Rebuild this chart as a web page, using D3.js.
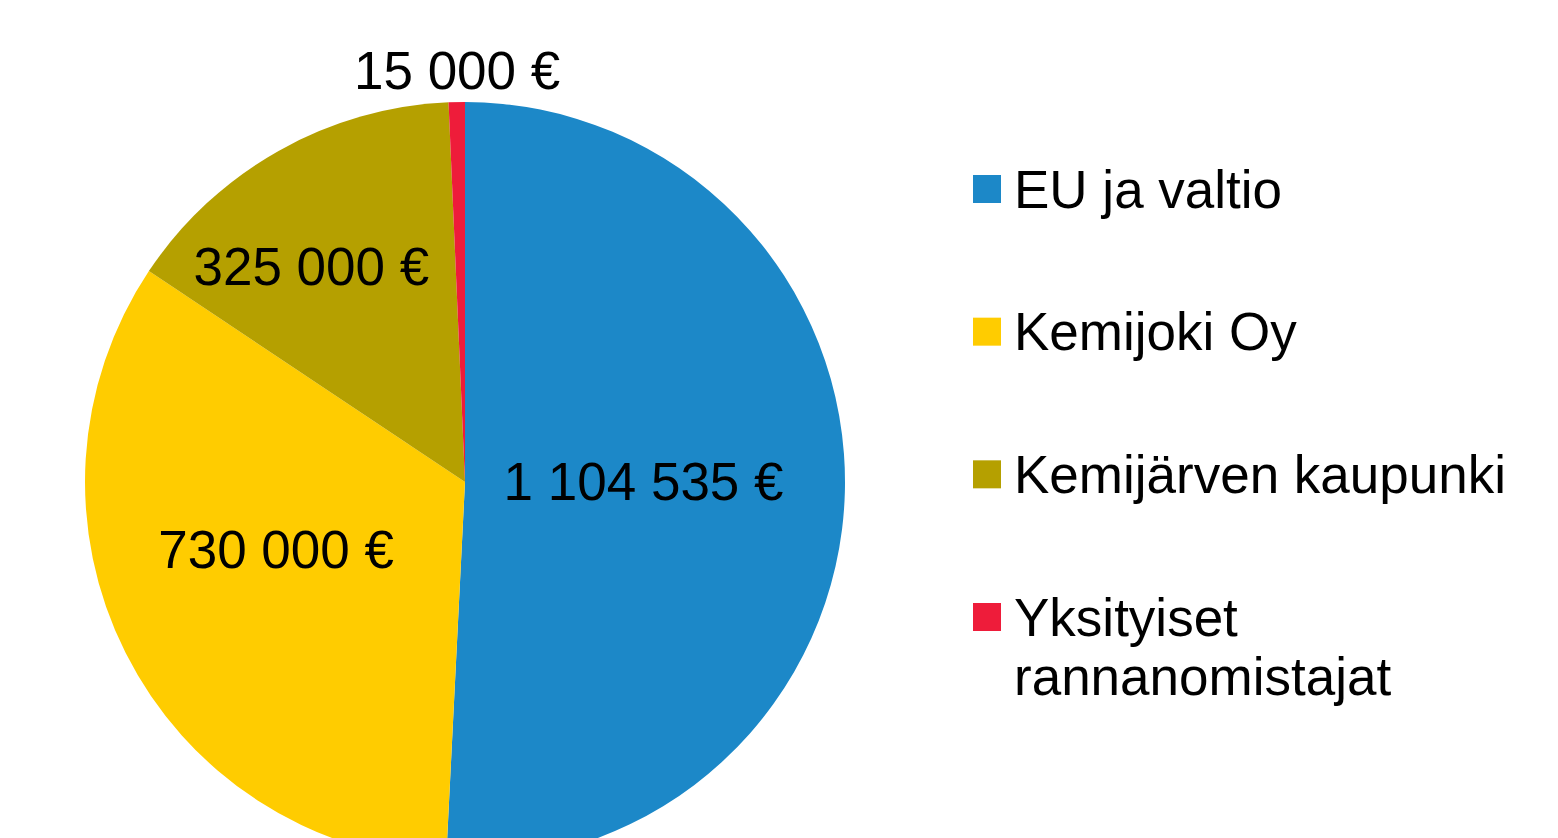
<!DOCTYPE html>
<html><head><meta charset="utf-8">
<script src="https://cdn.jsdelivr.net/npm/d3@7"></script>
<style>html,body{margin:0;padding:0;background:#fff;overflow:hidden}</style>
</head><body>
<svg id="c" width="1558" height="838"></svg>
<script>
const categories = ["EU ja valtio", "Kemijoki Oy", "Kemijärven kaupunki", "Yksityiset rannanomistajat"];
const values = [1104535, 730000, 325000, 15000];
const valueLabels = ["1 104 535 €", "730 000 €", "325 000 €", "15 000 €"];
const legendLines = [["EU ja valtio"], ["Kemijoki Oy"], ["Kemijärven kaupunki"], ["Yksityiset", "rannanomistajat"]];
const colors = ["#1C88C8", "#FFCC00", "#B5A000", "#EE1C3A"];

// layout
const cx = 465, cy = 482, R = 380;
const labelK = [0.47, 0.53, 0.69, 1.08];
const labelOff = [[0, -5], [-9, -23], [-25, 13], [1, -1]];
const font = "'Liberation Sans', Arial, sans-serif";
const fs = 53;

const svg = d3.select("#c");
const pie = d3.pie().sort(null).value(d => d)(values);
const arc = d3.arc().innerRadius(0).outerRadius(R);
const g = svg.append("g").attr("transform", `translate(${cx},${cy})`);
g.selectAll("path").data(pie).join("path")
  .attr("d", arc).attr("fill", (d, i) => colors[i]);

g.selectAll("text").data(pie).join("text")
  .attr("transform", (d, i) => {
    const la = d3.arc().innerRadius(R * labelK[i]).outerRadius(R * labelK[i]);
    const [x, y] = la.centroid(d);
    return `translate(${x + labelOff[i][0]},${y + labelOff[i][1]})`;
  })
  .attr("text-anchor", "middle").attr("dy", "0.35em")
  .attr("font-family", font).attr("font-size", fs).attr("fill", "#000")
  .text((d, i) => valueLabels[i]);

const lg = svg.append("g").attr("transform", "translate(973,0)");
const ly = d3.scalePoint().domain(categories).range([189, 617]);
categories.forEach((c, i) => {
  const y = ly(c);
  lg.append("rect").attr("x", 0).attr("y", y - 14).attr("width", 28).attr("height", 28).attr("fill", colors[i]);
  const t = lg.append("text").attr("x", 41).attr("y", y)
    .attr("font-family", font).attr("font-size", fs).attr("fill", "#000");
  legendLines[i].forEach((l, j) => {
    t.append("tspan").attr("x", 41).attr("dy", j === 0 ? "0.35em" : 59).text(l);
  });
});
</script>
</body></html>
